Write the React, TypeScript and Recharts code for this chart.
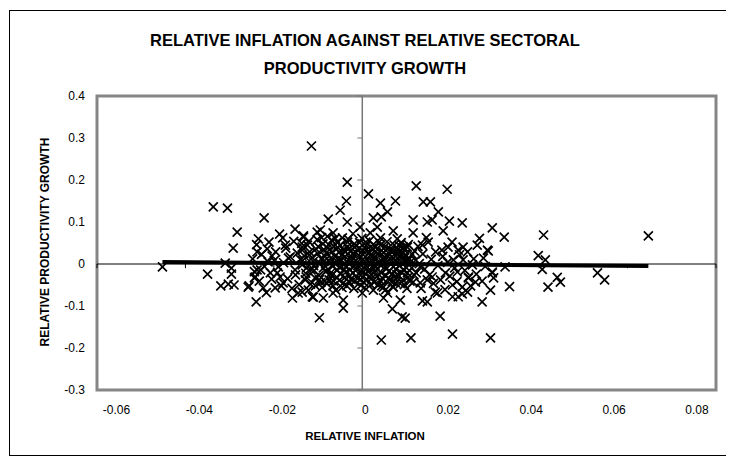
import { ScatterChart, Scatter, XAxis, YAxis, ReferenceLine, ReferenceArea } from 'recharts'

const FONT = 'Arial, "Liberation Sans", sans-serif'

const X_TICKS = [-0.06, -0.04, -0.02, 0, 0.02, 0.04, 0.06, 0.08]
const Y_TICKS = [0.4, 0.3, 0.2, 0.1, 0, -0.1, -0.2, -0.3]

// linear trend, drawn between the outermost observations
const TREND_X = [-0.0452, 0.0647]
const TREND_Y = [0.005, -0.005]

// [relative inflation, relative productivity growth]
const observations: [number, number][] = [
  // left tail
  [-0.0452, -0.007], [-0.0337, 0.136], [-0.0305, 0.133], [-0.0283, 0.076], [-0.0292, 0.038],
  [-0.035, -0.024], [-0.032, -0.052], [-0.0303, -0.048], [-0.029, -0.05], [-0.0296, -0.024],
  [-0.0296, -0.01], [-0.031, 0.002], [-0.0258, -0.055], [-0.0244, -0.033], [-0.024, -0.09],
  [-0.0238, 0.029], [-0.0238, -0.014], [-0.0235, 0.06], [-0.0222, 0.11], [-0.0152, 0.083],
  [-0.018, 0.062], [-0.0133, 0.067], [-0.0102, 0.076], [-0.0215, 0.036], [-0.0204, 0.019],
  [-0.0174, 0.045], [-0.0136, 0.033], [-0.0256, -0.052], [-0.0224, -0.057], [-0.0197, -0.057],
  [-0.0179, -0.045], [-0.0158, -0.081], [-0.0145, -0.069], [-0.023, -0.014], [-0.0213, 0.005],
  [-0.019, -0.007], [-0.0167, 0.014], [-0.0152, -0.014], [-0.0129, -0.038], [-0.0208, -0.021],
  [-0.0186, -0.031], [-0.0136, -0.002], [-0.0242, -0.031], [-0.0097, -0.128], [-0.0113, -0.078],
  // upper / lower middle
  [-0.0115, 0.281], [-0.0034, 0.195], [-0.0036, 0.15], [-0.005, 0.128], [-0.0077, 0.107],
  [-0.0034, 0.1], [0.0014, 0.167], [-0.0043, -0.105], [-0.0043, -0.086], [0.0041, 0.145],
  [0.0075, 0.15], [0.0122, 0.186], [0.0138, 0.148], [0.0057, 0.124], [0.0043, 0.112],
  [0.0025, 0.11], [0.0115, 0.105], [0.007, 0.079], [0.0115, 0.074], [0.0093, 0.04],
  [0.0136, 0.045], [0.0131, -0.045], [0.0136, -0.088], [0.0086, -0.086], [0.0068, -0.107],
  [0.009, -0.126], [0.0097, -0.129], [0.0043, -0.181], [0.011, -0.176], [0.0048, -0.081],
  [0.0025, -0.062],
  // right side
  [0.0192, 0.178], [0.0154, 0.148], [0.0172, 0.124], [0.0158, 0.105], [0.0197, 0.102],
  [0.0226, 0.098], [0.0183, 0.079], [0.0294, 0.086], [0.026, 0.045], [0.0228, 0.04],
  [0.0283, 0.033], [0.0274, 0.014], [0.0294, -0.021], [0.029, -0.062], [0.0271, -0.09],
  [0.0238, -0.067], [0.0217, -0.078], [0.0204, -0.078], [0.017, -0.069], [0.0176, -0.124],
  [0.0204, -0.167], [0.029, -0.176], [0.0256, -0.043], [0.024, -0.031], [0.0321, 0.064],
  [0.041, 0.069], [0.0398, 0.02], [0.0414, 0.01], [0.0323, -0.007], [0.0407, -0.013],
  [0.0297, -0.033], [0.0333, -0.054], [0.042, -0.055], [0.0441, -0.032], [0.0448, -0.043],
  [0.0647, 0.067], [0.0532, -0.021], [0.0548, -0.038], [0.0285, 0.031], [0.0294, -0.019],
  [0.0149, 0.052], [0.018, 0.033], [0.0194, 0.04], [0.0217, 0.033], [0.0228, 0.01],
  [0.0206, 0.01], [0.0249, -0.002], [0.0188, -0.021], [0.0215, -0.019], [0.024, -0.033],
  [0.0204, -0.05], [0.0226, -0.055], [0.0158, -0.031], [0.0165, -0.067], [0.0147, -0.09],
  [0.0147, 0.1], [0.0102, 0.04], [0.0086, 0.017], [0.0109, 0.005], [0.0131, -0.007],
  [0.0102, -0.021], [0.0115, -0.043], [0.0079, -0.033], [0.007, -0.055], [0.0048, -0.055],
  [0.0057, -0.069], [0.0147, -0.038], [0.0079, 0.06], [0.0041, 0.062], [0.0018, 0.074],
  [0.0034, 0.088],
  [-0.0133, 0.064], [-0.0095, 0.081], [-0.0066, 0.074], [-0.0005, 0.088], [-0.0136, 0.04],
  [-0.0122, -0.062], [-0.0111, -0.079], [-0.0088, -0.081], [-0.0066, -0.069], [0, -0.069],
  [-0.0136, -0.067],
  // dense core
  [-0.012, 0.021], [-0.011, -0.004], [-0.0105, 0.036], [-0.0098, -0.027], [-0.0093, 0.012],
  [-0.0089, 0.048], [-0.0085, -0.041], [-0.0081, 0.027], [-0.0077, -0.013], [-0.0073, 0.003],
  [-0.0069, 0.057], [-0.0066, -0.052], [-0.0062, 0.018], [-0.0058, -0.031], [-0.0055, 0.039],
  [-0.0051, -0.008], [-0.0047, 0.009], [-0.0044, -0.046], [-0.004, 0.031], [-0.0037, -0.019],
  [-0.0033, 0.052], [-0.003, 0.001], [-0.0026, -0.036], [-0.0022, 0.024], [-0.0019, -0.058],
  [-0.0015, 0.044], [-0.0012, -0.012], [-0.0008, 0.015], [-0.0004, -0.027], [-0.0001, 0.061],
  [0.0003, -0.043], [0.0007, 0.006], [0.001, 0.035], [0.0014, -0.016], [0.0018, 0.021],
  [0.0021, -0.034], [0.0025, 0.047], [0.0029, -0.003], [0.0032, 0.013], [0.0036, -0.049],
  [0.004, 0.028], [0.0043, -0.021], [0.0047, 0.004], [0.0051, 0.041], [0.0055, -0.011],
  [0.0058, 0.019], [0.0062, -0.038], [0.0066, 0.033], [0.007, -0.006], [0.0074, 0.009],
  [0.0078, -0.025], [0.0082, 0.026], [0.0086, -0.047], [0.009, 0.002], [0.0094, -0.015],
  [0.0098, 0.022], [0.0103, -0.032], [0.0107, 0.012], [0.0112, -0.009], [0.0118, 0.031],
  [-0.0135, 0.008], [-0.0128, -0.022], [-0.0124, 0.045], [-0.0117, -0.048], [-0.0113, 0.015],
  [-0.0107, -0.033], [-0.0102, 0.058], [-0.0096, 0.002], [-0.0091, -0.056], [-0.0087, 0.034],
  [-0.0083, -0.018], [-0.0079, 0.066], [-0.0075, -0.038], [-0.0071, 0.014], [-0.0067, -0.006],
  [-0.0064, 0.042], [-0.006, -0.062], [-0.0056, 0.005], [-0.0053, 0.028], [-0.0049, -0.024],
  [-0.0045, 0.062], [-0.0042, -0.002], [-0.0039, 0.018], [-0.0035, -0.052], [-0.0031, 0.036],
  [-0.0028, -0.014], [-0.0024, 0.009], [-0.0021, 0.072], [-0.0017, -0.041], [-0.0014, 0.027],
  [-0.001, -0.004], [-0.0006, 0.051], [-0.0003, -0.017], [0.0001, 0.011], [0.0005, -0.056],
  [0.0009, 0.043], [0.0012, -0.008], [0.0016, 0.055], [0.002, -0.026], [0.0023, 0.008],
  [0.0027, -0.044], [0.0031, 0.029], [0.0034, -0.012], [0.0038, 0.052], [0.0042, -0.004],
  [0.0045, -0.033], [0.0049, 0.016], [0.0053, -0.061], [0.0057, 0.037], [0.006, -0.018],
  [0.0064, 0.006], [0.0068, -0.042], [0.0072, 0.045], [0.0076, -0.012], [0.008, 0.034],
  [0.0084, -0.004], [0.0088, 0.051], [0.0092, -0.038], [0.0096, 0.015], [0.0101, -0.058],
  [-0.0126, -0.009], [-0.0119, 0.029], [-0.0109, -0.016], [-0.0099, 0.041], [-0.0094, -0.044],
  [-0.0086, 0.007], [-0.0078, 0.038], [-0.007, -0.028], [-0.0063, 0.002], [-0.0057, 0.052],
  [-0.0052, -0.039], [-0.0046, 0.022], [-0.0041, -0.012], [-0.0034, 0.041], [-0.0029, -0.028],
  [-0.0023, 0.016], [-0.0018, -0.006], [-0.0011, 0.033], [-0.0005, -0.038], [0.0002, 0.022],
  [0.0008, -0.024], [0.0015, 0.004], [0.0022, 0.038], [0.0028, -0.019], [0.0035, 0.024],
  [0.0041, -0.041], [0.0048, 0.011], [0.0054, -0.028], [0.0061, 0.024], [0.0069, -0.054],
  [0.0075, 0.019], [0.0083, -0.028], [0.0091, 0.038], [0.0099, -0.008],
  [-0.0131, 0.019], [-0.0127, -0.031], [-0.0121, 0.054], [-0.0116, -0.014], [-0.0111, 0.006],
  [-0.0106, -0.052], [-0.0101, 0.025], [-0.0097, -0.037], [-0.0092, 0.063], [-0.0088, -0.009],
  [-0.0084, 0.018], [-0.008, -0.047], [-0.0076, 0.046], [-0.0072, -0.022], [-0.0068, 0.029],
  [-0.0065, -0.041], [-0.0061, 0.061], [-0.0057, -0.014], [-0.0054, 0.013], [-0.005, 0.045],
  [-0.0046, -0.056], [-0.0043, 0.034], [-0.0039, -0.032], [-0.0036, 0.006], [-0.0032, 0.059],
  [-0.0029, -0.043], [-0.0025, 0.031], [-0.0021, -0.021], [-0.0018, 0.048], [-0.0014, -0.031],
  [-0.0011, 0.005], [-0.0007, 0.038], [-0.0003, -0.051], [0.0001, 0.032], [0.0004, -0.009],
  [0.0008, 0.052], [0.0011, -0.037], [0.0015, 0.026], [0.0019, -0.049], [0.0022, 0.017],
  [0.0026, -0.011], [0.003, 0.041], [0.0033, -0.029], [0.0037, 0.003], [0.0041, 0.045],
  [0.0044, -0.052], [0.0048, 0.027], [0.0052, -0.006], [0.0056, 0.053], [0.0059, -0.035],
  [0.0063, 0.013], [0.0067, -0.024], [0.0071, 0.031], [0.0075, -0.045], [0.0079, 0.004],
  [0.0083, 0.044], [0.0087, -0.019], [0.0091, 0.027], [0.0095, -0.049], [0.0099, 0.008],
  [0.0104, 0.046], [0.0108, -0.041], [0.0113, 0.023], [0.0117, -0.026], [0.0121, 0.009],
  // left shoulder
  [-0.0248, 0.012], [-0.0244, -0.018], [-0.0239, 0.046], [-0.0233, -0.041], [-0.0228, 0.023],
  [-0.0221, -0.006], [-0.0217, -0.068], [-0.0211, 0.052], [-0.0205, -0.036], [-0.0199, 0.008],
  [-0.0196, 0.029], [-0.0192, -0.021], [-0.0187, 0.071], [-0.0183, -0.052], [-0.0178, 0.003],
  [-0.0173, 0.038], [-0.0169, -0.035], [-0.0163, 0.017], [-0.0159, -0.058], [-0.0155, 0.054],
  [-0.0151, -0.026], [-0.0147, 0.026], [-0.0143, -0.049], [-0.014, 0.011], [-0.0137, 0.049],
  // right shoulder
  [0.0122, -0.021], [0.0126, 0.042], [0.0129, 0.001], [0.0133, -0.058], [0.0137, 0.024],
  [0.0141, -0.012], [0.0145, 0.063], [0.0152, -0.026], [0.0156, 0.011], [0.0161, -0.046],
  [0.0166, 0.029], [0.0171, -0.004], [0.0177, -0.038], [0.0182, 0.018], [0.0187, -0.061],
  [0.0193, 0.004], [0.0198, -0.029], [0.0203, 0.052], [0.0209, -0.009], [0.0214, -0.042],
  [0.022, 0.022], [0.0226, -0.071], [0.0232, -0.015], [0.0238, 0.029], [0.0245, -0.052],
  [0.0252, 0.012], [0.0258, -0.024], [0.0265, 0.061], [0.0271, -0.041], [0.0278, -0.006],
]

const points = observations.map(([x, y]) => ({ x, y }))
const trend = TREND_X.map((x, i) => ({ x, y: TREND_Y[i] }))

function Cross(props: any) {
  const { cx, cy } = props
  if (cx == null || cy == null) return <g />
  const r = 4.5
  return (
    <path
      d={`M${cx - r},${cy - r}L${cx + r},${cy + r}M${cx - r},${cy + r}L${cx + r},${cy - r}`}
      stroke="#000"
      strokeWidth={1.7}
      fill="none"
    />
  )
}

// the original labels sit a little closer to the middle than their ticks
function InflationTick(props: any) {
  const { x, y, payload } = props
  const lx = 357 + (x - 354) * 0.938
  return (
    <text x={lx} y={y + 16} textAnchor="middle" fontSize={12} fill="#000" fontFamily={FONT}>
      {payload.value}
    </text>
  )
}

export default function App() {
  return (
    <div style={{ position: 'relative', width: 726, height: 450 }}>
      <div
        style={{
          position: 'absolute',
          left: 1,
          top: 2,
          width: 723,
          height: 446,
          boxSizing: 'border-box',
          border: '1px solid #000',
        }}
      />
      <div
        style={{
          position: 'absolute',
          left: 0,
          top: 18,
          width: 714,
          textAlign: 'center',
          fontFamily: FONT,
          fontWeight: 'bold',
          fontSize: 16.5,
          lineHeight: '28px',
        }}
      >
        RELATIVE INFLATION AGAINST RELATIVE SECTORAL
        <br />
        PRODUCTIVITY GROWTH
      </div>
      <ScatterChart
        width={726}
        height={450}
        margin={{ top: 88, right: 18, bottom: 18, left: 0 }}
        style={{ position: 'absolute', left: 0, top: 0 }}
      >
        <XAxis
          type="number"
          dataKey="x"
          domain={[-0.06, 0.08]}
          ticks={X_TICKS}
          allowDataOverflow
          axisLine={false}
          tickLine={false}
          height={50}
          tick={(p: any) => <InflationTick {...p} />}
          label={{
            content: () => (
              <text x={357} y={432} textAnchor="middle" fontSize={11.5} fontWeight="bold" fontFamily={FONT} fill="#000">
                RELATIVE INFLATION
              </text>
            ),
          }}
        />
        <YAxis
          type="number"
          dataKey="y"
          domain={[-0.3, 0.4]}
          ticks={Y_TICKS}
          allowDataOverflow
          axisLine={false}
          tickLine={false}
          width={89}
          tickMargin={6}
          tick={{ fontSize: 12, fill: '#000', fontFamily: FONT }}
          label={{
            content: () => (
              <text
                x={37}
                y={234}
                transform="rotate(-90 37 234)"
                textAnchor="middle"
                dominantBaseline="central"
                fontSize={12}
                fontWeight="bold"
                fontFamily={FONT}
                fill="#000"
              >
                RELATIVE PRODUCTIVITY GROWTH
              </text>
            ),
          }}
        />
        <ReferenceArea
          x1={-0.06}
          x2={0.08}
          y1={-0.3}
          y2={0.4}
          fill="none"
          stroke="#868686"
          strokeWidth={3}
          ifOverflow="visible"
        />
        <ReferenceLine y={0} stroke="#000" strokeWidth={1} />
        <ReferenceLine x={0} stroke="#777" strokeWidth={1.5} />
        {X_TICKS.map((t) => (
          <ReferenceLine key={'xt' + t} segment={[{ x: t, y: 0 }, { x: t, y: -0.01 }]} stroke="#000" ifOverflow="visible" />
        ))}
        {Y_TICKS.map((t) => (
          <ReferenceLine key={'yt' + t} segment={[{ x: -0.0011, y: t }, { x: 0, y: t }]} stroke="#777" ifOverflow="visible" />
        ))}
        <Scatter data={points} shape={<Cross />} isAnimationActive={false} />
        <Scatter
          data={trend}
          line={{ stroke: '#000', strokeWidth: 4 }}
          shape={() => <g />}
          isAnimationActive={false}
        />
      </ScatterChart>
    </div>
  )
}
